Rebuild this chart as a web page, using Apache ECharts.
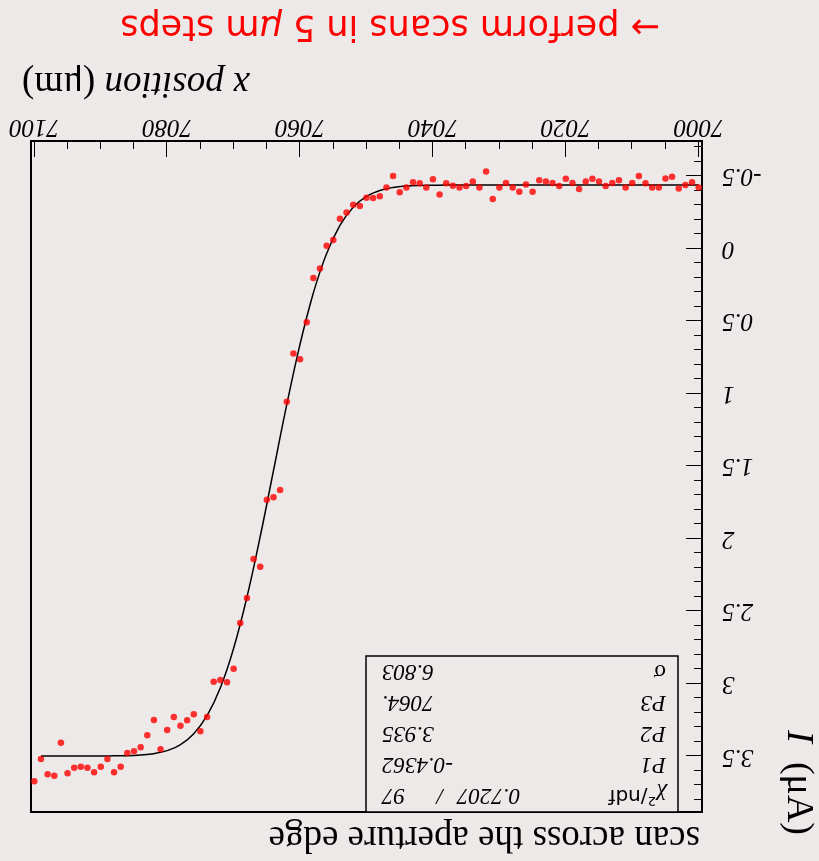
<!DOCTYPE html>
<html>
<head>
<meta charset="utf-8">
<script src="https://cdn.jsdelivr.net/npm/echarts@6/dist/echarts.min.js"></script>
<style>
    html, body { margin: 0; padding: 0; background: #ede9e8; }
    #chart { width: 819px; height: 861px; transform: rotate(180deg); }
</style>
</head>
<body>
<div id="chart"></div>
<script>
// scan positions (um)
let xPos = [
    7000, 7001, 7002, 7003, 7004, 7005, 7006, 7007, 7008, 7009,
    7010, 7011, 7012, 7013, 7014, 7015, 7016, 7017, 7018, 7019,
    7020, 7021, 7022, 7023, 7024, 7025, 7026, 7027, 7028, 7029,
    7030, 7031, 7032, 7033, 7034, 7035, 7036, 7037, 7038, 7039,
    7040, 7041, 7042, 7043, 7044, 7045, 7046, 7047, 7048, 7049,
    7050, 7051, 7052, 7053, 7054, 7055, 7056, 7057, 7058, 7059,
    7060, 7061, 7062, 7063, 7064, 7065, 7066, 7067, 7068, 7069,
    7070, 7071, 7072, 7073, 7074, 7075, 7076, 7077, 7078, 7079,
    7080, 7081, 7082, 7083, 7084, 7085, 7086, 7087, 7088, 7089,
    7090, 7091, 7092, 7093, 7094, 7095, 7096, 7097, 7098, 7099,
    7100
];

// measured current (uA)
let current = [
    -0.420, -0.455, -0.436, -0.413, -0.493, -0.482, -0.420, -0.420, -0.448, -0.498,
    -0.450, -0.420, -0.470, -0.450, -0.430, -0.460, -0.480, -0.460, -0.410, -0.450,
    -0.480, -0.430, -0.450, -0.460, -0.470, -0.390, -0.440, -0.390, -0.420, -0.450,
    -0.420, -0.340, -0.530, -0.420, -0.460, -0.430, -0.420, -0.431, -0.448, -0.372,
    -0.476, -0.420, -0.448, -0.455, -0.420, -0.386, -0.498, -0.420, -0.360, -0.347,
    -0.349, -0.292, -0.300, -0.248, -0.204, -0.057, -0.018, 0.138, 0.205, 0.510,
    0.765, 0.724, 1.057, 1.666, 1.716, 1.733, 2.194, 2.141, 2.410, 2.582,
    2.897, 2.990, 2.975, 2.987, 3.230, 3.329, 3.212, 3.253, 3.290, 3.230,
    3.320, 3.453, 3.251, 3.356, 3.439, 3.467, 3.478, 3.573, 3.611, 3.520,
    3.573, 3.611, 3.580, 3.573, 3.580, 3.618, 3.407, 3.635, 3.625, 3.520,
    3.673
];

// fitted curve as drawn
let fitX = [7000, 7010, 7020, 7030, 7036, 7038, 7040, 7042, 7044, 7046, 7048, 7050, 7052, 7054,
    7056, 7058, 7060, 7062, 7064, 7066, 7068, 7070, 7072, 7074, 7076, 7078, 7080,
    7082, 7084, 7086, 7088, 7090, 7092, 7094, 7096, 7099];
let fitY = [-0.436, -0.436, -0.436, -0.436, -0.436, -0.436, -0.435, -0.434, -0.430, -0.420, -0.399, -0.358, -0.283, -0.158,
    0.035, 0.307, 0.659, 1.076, 1.531, 1.986, 2.404, 2.756, 3.028, 3.220, 3.346, 3.421, 3.462,
    3.483, 3.492, 3.497, 3.498, 3.499, 3.499, 3.499, 3.499, 3.499];

// tick labels
let xTicks = [7000, 7020, 7040, 7060, 7080, 7100];
let yTicks = [-0.5, 0, 0.5, 1, 1.5, 2, 2.5, 3, 3.5];

// fit box
let statNames = ['P1', 'P2', 'P3', '\u03c3'];
let statValues = ['-0.4362', '3.935', '7064.', '6.803'];
let chi2Text = '0.7207';
let ndfText = '97';

let xMinor = [];
for (let v = 7005; v < 7100; v += 5) xMinor.push(v);
let yMinor = [];
for (let k = -7; k <= 38; k++) yMinor.push(k / 10);

let BG = '#ede9e8';
let SERIF = '"Liberation Serif", "Times New Roman", serif';
let chart = echarts.init(document.getElementById('chart'));

let statRowY = [64.6, 95.8, 127, 158.2, 189.4];
let statGraphics = [
    {
        type: 'rect', z: 50,
        shape: { x: 141, y: 49, width: 312, height: 156 },
        style: { fill: BG, stroke: '#000', lineWidth: 1.5 }
    },
    {
        type: 'text', z: 51, x: 153, y: statRowY[0] + 1,
        style: {
            text: '{g|\u03c7}{s|2}{n|/ndf}', fill: '#000', align: 'left', verticalAlign: 'middle',
            rich: {
                g: { fontFamily: SERIF, fontStyle: 'italic', fontSize: 23, fill: '#000' },
                s: { fontFamily: '"DejaVu Sans"', fontSize: 13, verticalAlign: 'top', fill: '#000' },
                n: { fontFamily: '"DejaVu Sans"', fontSize: 20, fill: '#000' }
            }
        }
    },
    {
        type: 'text', z: 51, x: 362, y: statRowY[0] + 1,
        style: { text: chi2Text, fontFamily: SERIF, fontStyle: 'italic', fontSize: 23, fill: '#000', align: 'right', verticalAlign: 'middle' }
    },
    {
        type: 'text', z: 51, x: 379, y: statRowY[0] + 1,
        style: { text: '/', fontFamily: SERIF, fontStyle: 'italic', fontSize: 23, fill: '#000', align: 'center', verticalAlign: 'middle' }
    },
    {
        type: 'text', z: 51, x: 437, y: statRowY[0] + 1,
        style: { text: ndfText, fontFamily: SERIF, fontStyle: 'italic', fontSize: 23, fill: '#000', align: 'right', verticalAlign: 'middle' }
    }
];
statNames.forEach(function (name, i) {
    statGraphics.push({
        type: 'text', z: 51, x: 153, y: statRowY[i + 1] + 1,
        style: { text: name, fontFamily: SERIF, fontStyle: i < 3 ? 'italic' : 'normal', fontSize: 23, fill: '#000', align: 'left', verticalAlign: 'middle' }
    });
    statGraphics.push({
        type: 'text', z: 51, x: 437, y: statRowY[i + 1] + 1,
        style: { text: statValues[i], fontFamily: SERIF, fontStyle: 'italic', fontSize: 23, fill: '#000', align: 'right', verticalAlign: 'middle' }
    });
});

let option = {
    backgroundColor: BG,
    animation: false,
    grid: {
        left: 117, top: 49, width: 671, height: 671,
        show: true, borderColor: '#000', borderWidth: 2, backgroundColor: 'transparent'
    },
    xAxis: [{
        type: 'value', min: 6999.5, max: 7100.5, position: 'bottom',
        axisLine: { show: true, onZero: false, lineStyle: { color: '#000', width: 2 } },
        axisTick: { show: true, inside: true, length: 16, customValues: xTicks, lineStyle: { color: '#000', width: 1 } },
        axisLabel: {
            customValues: xTicks, margin: 2, color: '#000',
            fontFamily: SERIF, fontStyle: 'italic', fontSize: 25,
            formatter: function (v) { return String(v); }
        },
        splitLine: { show: false }
    }, {
        type: 'value', min: 6999.5, max: 7100.5, position: 'bottom',
        axisLine: { show: false, onZero: false },
        axisTick: { show: true, inside: true, length: 8, customValues: xMinor, lineStyle: { color: '#000', width: 1 } },
        axisLabel: { show: false },
        splitLine: { show: false }
    }],
    yAxis: [{
        type: 'value', min: -0.74, max: 3.885, position: 'left',
        axisLine: { show: true, onZero: false, lineStyle: { color: '#000', width: 2 } },
        axisTick: { show: true, inside: true, length: 16, customValues: yTicks, lineStyle: { color: '#000', width: 1 } },
        axisLabel: {
            customValues: yTicks, margin: 20, color: '#000',
            fontFamily: SERIF, fontStyle: 'italic', fontSize: 25,
            formatter: function (v) { return String(v); }
        },
        splitLine: { show: false }
    }, {
        type: 'value', min: -0.74, max: 3.885, position: 'left',
        axisLine: { show: false, onZero: false },
        axisTick: { show: true, inside: true, length: 8, customValues: yMinor, lineStyle: { color: '#000', width: 1 } },
        axisLabel: { show: false },
        splitLine: { show: false }
    }],
    series: [{
        type: 'line',
        data: fitX.map(function (x, i) { return [x, fitY[i]]; }),
        showSymbol: false,
        smooth: 0.4,
        lineStyle: { color: '#000', width: 1.5 },
        z: 3
    }, {
        type: 'scatter',
        data: xPos.map(function (x, i) { return [x, current[i]]; }),
        symbol: 'circle',
        symbolSize: 6.5,
        itemStyle: { color: '#ff0000' },
        z: 4
    }],
    graphic: [
        {
            type: 'text', x: 119, y: 24,
            style: { text: 'scan across the aperture edge', fontFamily: SERIF, fontSize: 37, fill: '#000', align: 'left', verticalAlign: 'middle' }
        },
        {
            type: 'text', x: 797, y: 778,
            style: {
                text: '{i|x position} {r|(\u03bcm)}', fontFamily: SERIF, fontSize: 37, fill: '#000',
                align: 'right', verticalAlign: 'middle',
                rich: {
                    i: { fontFamily: SERIF, fontStyle: 'italic', fontSize: 37, fill: '#000' },
                    r: { fontFamily: SERIF, fontSize: 37, fill: '#000' }
                }
            }
        },
        {
            type: 'text', x: 21, y: 26, rotation: Math.PI / 2,
            style: {
                text: '{i|I}  {r|(\u03bcA)}', fontFamily: SERIF, fontSize: 38, fill: '#000',
                align: 'right', verticalAlign: 'middle',
                rich: {
                    i: { fontFamily: SERIF, fontStyle: 'italic', fontSize: 38, fill: '#000' },
                    r: { fontFamily: SERIF, fontSize: 38, fill: '#000' }
                }
            }
        },
        {
            type: 'text', x: 159, y: 836,
            style: {
                text: '{a|\u2192 perform scans in 5 }{m|\u03bc}{a|m steps}', fill: '#ff0000',
                fontFamily: '"DejaVu Sans"', fontSize: 35, align: 'left', verticalAlign: 'middle',
                rich: {
                    a: { fontFamily: '"DejaVu Sans"', fontSize: 35, fill: '#ff0000' },
                    m: { fontFamily: '"DejaVu Sans"', fontStyle: 'italic', fontSize: 35, fill: '#ff0000' }
                }
            }
        }
    ].concat(statGraphics)
};

chart.setOption(option);
</script>
</body>
</html>
